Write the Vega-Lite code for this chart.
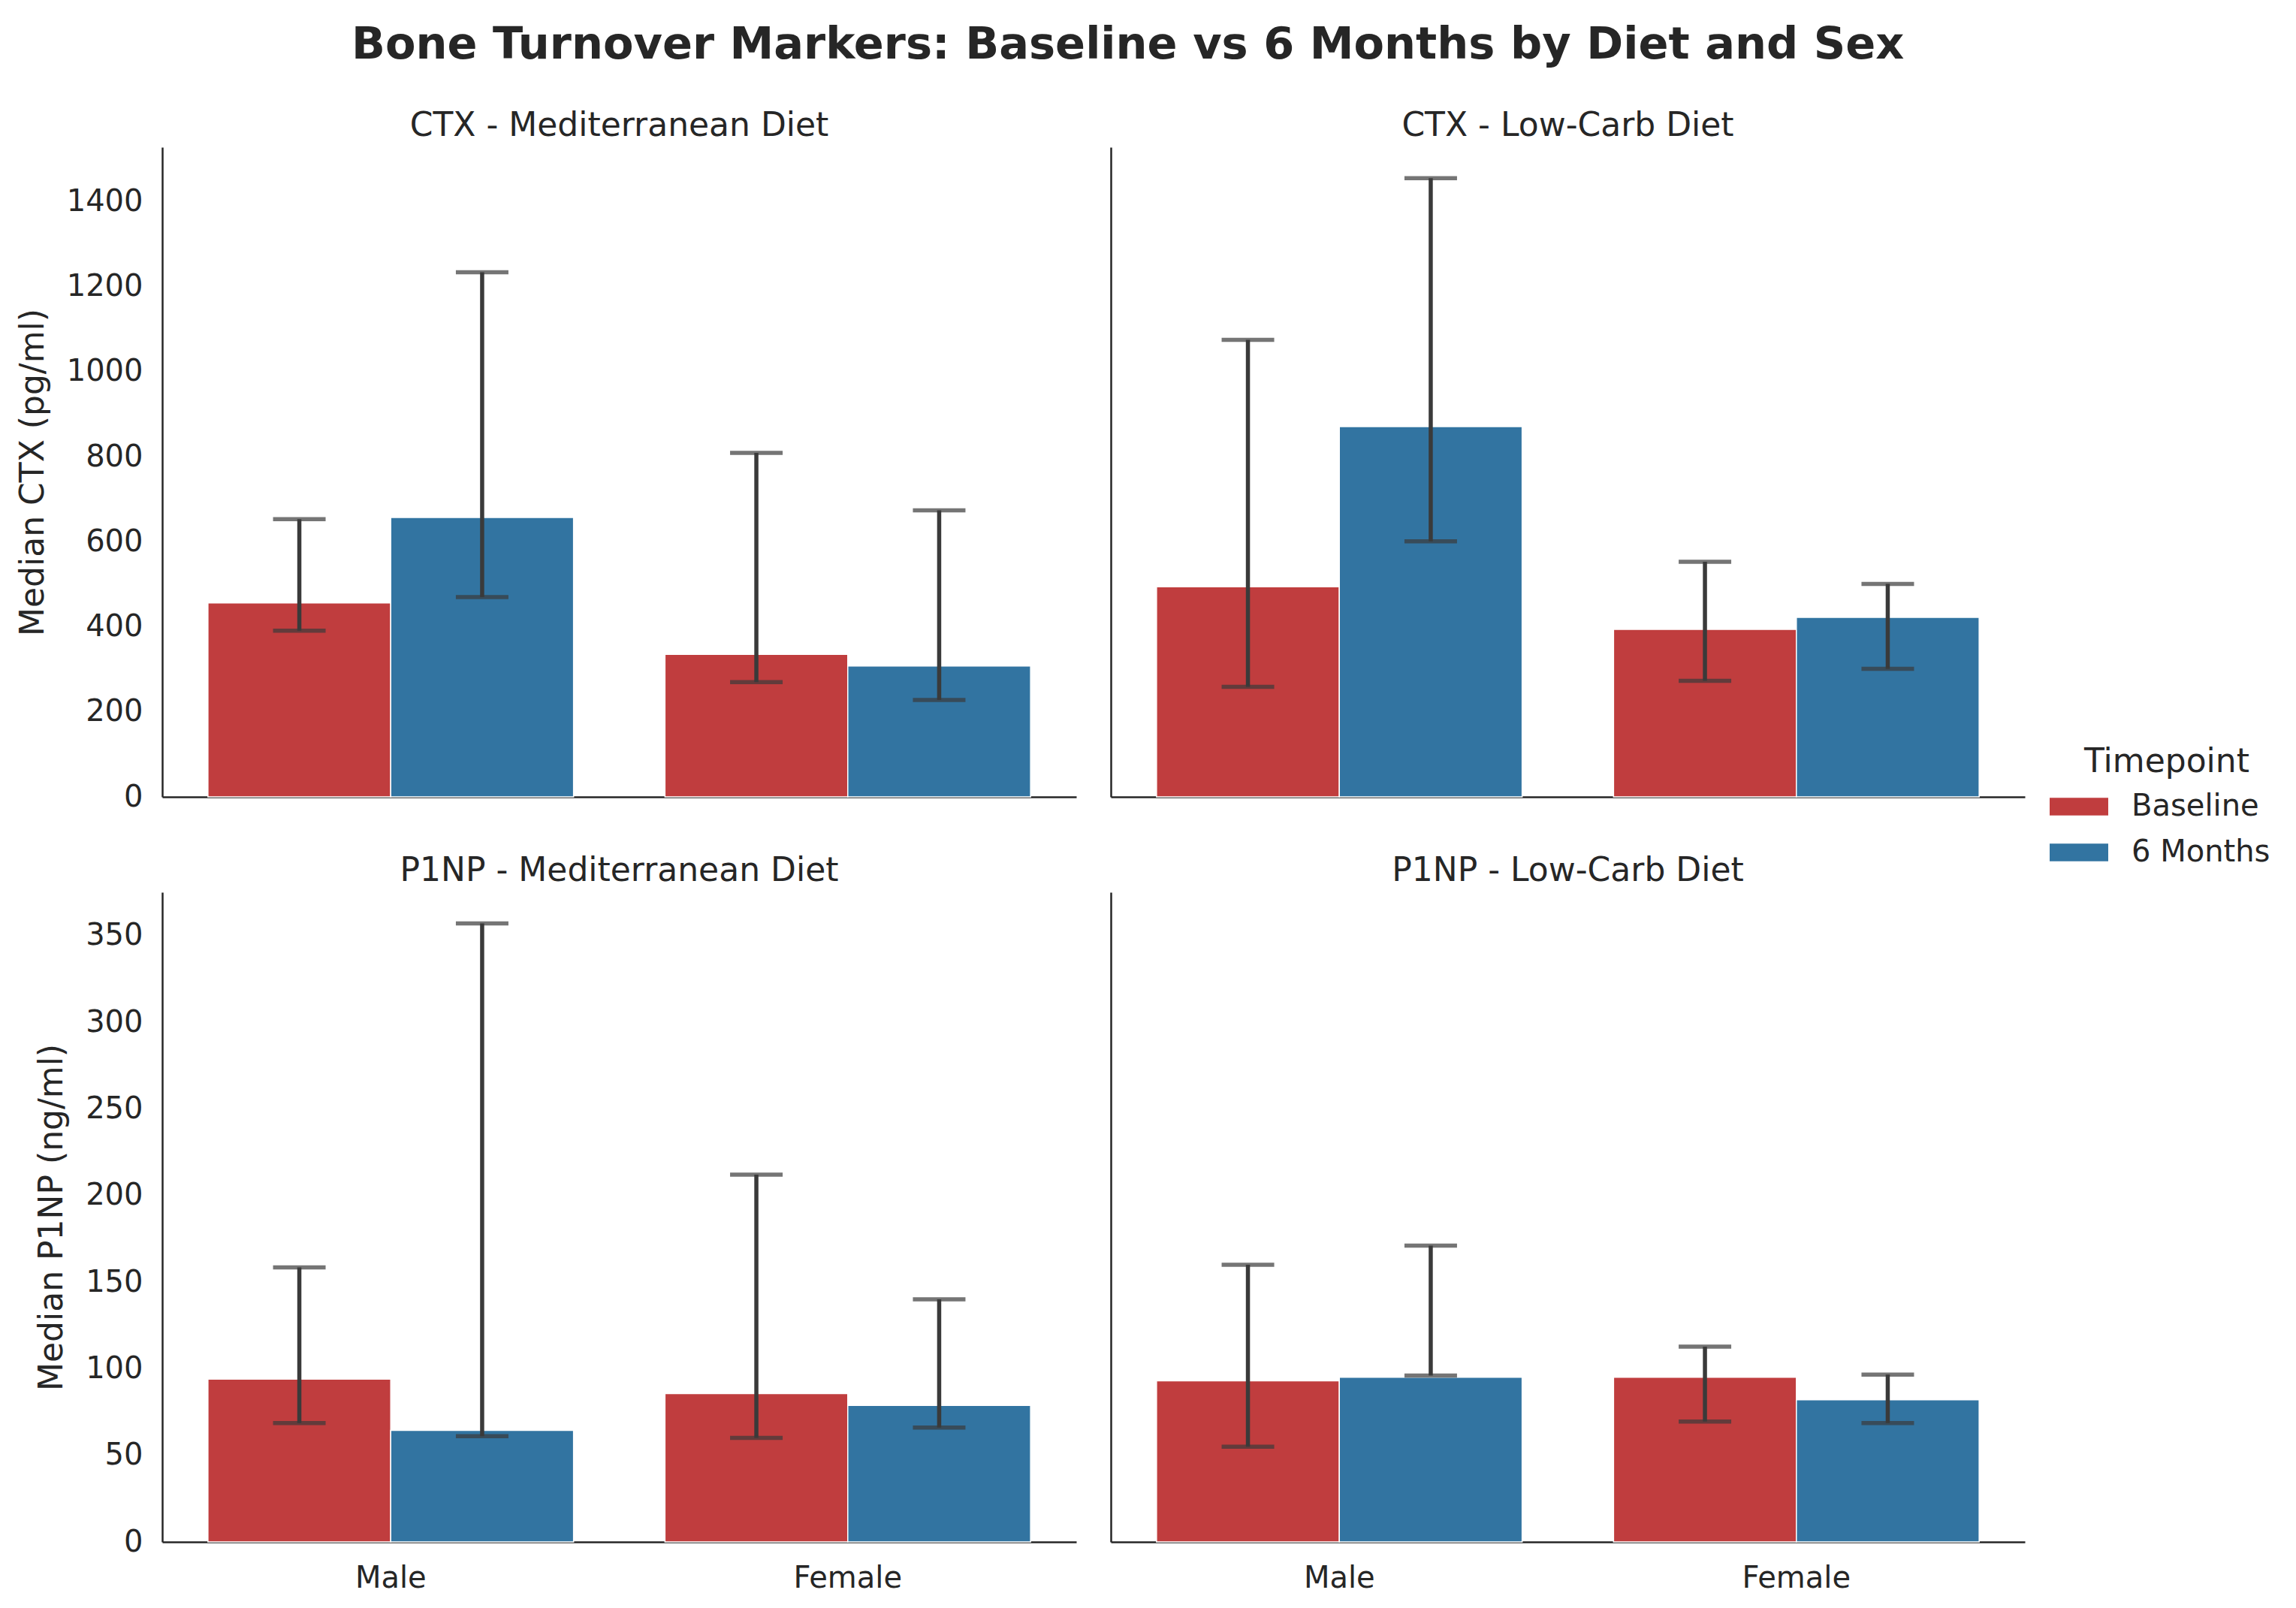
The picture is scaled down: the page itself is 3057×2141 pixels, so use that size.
{
  "$schema": "https://vega.github.io/schema/vega-lite/v6.json",
  "background": "white",
  "padding": {"left": 22, "top": 31, "right": 0, "bottom": 0},
  "title": {"text": "Bone Turnover Markers: Baseline vs 6 Months by Diet and Sex", "fontSize": 59, "fontWeight": "bold", "font": "DejaVu Sans", "color": "#262626", "anchor": "start", "frame": "group", "dx": 252, "offset": 56},
  "datasets": {
    "d": [
      {"marker": "CTX", "diet": "Mediterranean", "sex": "Male", "timepoint": "Baseline", "median": 456, "low": 391, "high": 653},
      {"marker": "CTX", "diet": "Mediterranean", "sex": "Male", "timepoint": "6 Months", "median": 657, "low": 470, "high": 1234},
      {"marker": "CTX", "diet": "Mediterranean", "sex": "Female", "timepoint": "Baseline", "median": 335, "low": 270, "high": 809},
      {"marker": "CTX", "diet": "Mediterranean", "sex": "Female", "timepoint": "6 Months", "median": 308, "low": 228, "high": 674},
      {"marker": "CTX", "diet": "Low-Carb", "sex": "Male", "timepoint": "Baseline", "median": 494, "low": 259, "high": 1075},
      {"marker": "CTX", "diet": "Low-Carb", "sex": "Male", "timepoint": "6 Months", "median": 871, "low": 601, "high": 1455},
      {"marker": "CTX", "diet": "Low-Carb", "sex": "Female", "timepoint": "Baseline", "median": 394, "low": 273, "high": 553},
      {"marker": "CTX", "diet": "Low-Carb", "sex": "Female", "timepoint": "6 Months", "median": 422, "low": 301, "high": 501},
      {"marker": "P1NP", "diet": "Mediterranean", "sex": "Male", "timepoint": "Baseline", "median": 94, "low": 68.6, "high": 158.5},
      {"marker": "P1NP", "diet": "Mediterranean", "sex": "Male", "timepoint": "6 Months", "median": 64.4, "low": 61, "high": 357},
      {"marker": "P1NP", "diet": "Mediterranean", "sex": "Female", "timepoint": "Baseline", "median": 85.6, "low": 60, "high": 212},
      {"marker": "P1NP", "diet": "Mediterranean", "sex": "Female", "timepoint": "6 Months", "median": 78.8, "low": 66, "high": 140},
      {"marker": "P1NP", "diet": "Low-Carb", "sex": "Male", "timepoint": "Baseline", "median": 93, "low": 55, "high": 160},
      {"marker": "P1NP", "diet": "Low-Carb", "sex": "Male", "timepoint": "6 Months", "median": 95, "low": 96, "high": 171},
      {"marker": "P1NP", "diet": "Low-Carb", "sex": "Female", "timepoint": "Baseline", "median": 95, "low": 69.5, "high": 112.7},
      {"marker": "P1NP", "diet": "Low-Carb", "sex": "Female", "timepoint": "6 Months", "median": 82, "low": 68.6, "high": 96.6}
    ]
  },
  "columns": 2,
  "bounds": "flush",
  "spacing": {"row": 127, "column": 46},
  "concat": [
    {
      "title": {"text": "CTX - Mediterranean Diet"},
      "width": 1217, "height": 865,
      "data": {"name": "d"},
      "transform": [{"filter": "datum.marker === 'CTX' && datum.diet === 'Mediterranean'"}],
      "encoding": {
        "x": {"field": "sex", "type": "nominal", "sort": ["Male", "Female"], "scale": {"paddingInner": 0.2, "paddingOuter": 0.1}, "axis": {"labels": false, "title": null}},
        "xOffset": {"field": "timepoint", "type": "nominal", "sort": ["Baseline", "6 Months"], "scale": {"paddingInner": 0, "paddingOuter": 0}}
      },
      "layer": [
        {"mark": {"type": "bar", "stroke": "white", "strokeWidth": 1.5}, "encoding": {"y": {"field": "median", "type": "quantitative", "scale": {"domain": [0, 1528]}, "axis": {"title": "Median CTX (pg/ml)", "format": "d", "values": [0, 200, 400, 600, 800, 1000, 1200, 1400]}}, "color": {"field": "timepoint", "type": "nominal", "scale": {"domain": ["Baseline", "6 Months"], "range": ["#c03d3e", "#3274a1"]}, "title": "Timepoint"}}},
        {"mark": {"type": "rule", "strokeWidth": 5.5, "color": "#3a3a3a"}, "encoding": {"y": {"field": "low", "type": "quantitative", "scale": {"domain": [0, 1528]}, "axis": {"title": "Median CTX (pg/ml)", "format": "d", "values": [0, 200, 400, 600, 800, 1000, 1200, 1400]}}, "y2": {"field": "high"}}},
        {"mark": {"type": "tick", "orient": "horizontal", "size": 70, "thickness": 5.5, "color": "#3a3a3a"}, "encoding": {"y": {"field": "low", "type": "quantitative", "scale": {"domain": [0, 1528]}, "axis": {"title": "Median CTX (pg/ml)", "format": "d", "values": [0, 200, 400, 600, 800, 1000, 1200, 1400]}}}},
        {"mark": {"type": "tick", "orient": "horizontal", "size": 70, "thickness": 5.5, "color": "#3a3a3a"}, "encoding": {"y": {"field": "high", "type": "quantitative", "scale": {"domain": [0, 1528]}, "axis": {"title": "Median CTX (pg/ml)", "format": "d", "values": [0, 200, 400, 600, 800, 1000, 1200, 1400]}}}}
      ]
    },
    {
      "title": {"text": "CTX - Low-Carb Diet"},
      "width": 1217, "height": 865,
      "data": {"name": "d"},
      "transform": [{"filter": "datum.marker === 'CTX' && datum.diet === 'Low-Carb'"}],
      "encoding": {
        "x": {"field": "sex", "type": "nominal", "sort": ["Male", "Female"], "scale": {"paddingInner": 0.2, "paddingOuter": 0.1}, "axis": {"labels": false, "title": null}},
        "xOffset": {"field": "timepoint", "type": "nominal", "sort": ["Baseline", "6 Months"], "scale": {"paddingInner": 0, "paddingOuter": 0}}
      },
      "layer": [
        {"mark": {"type": "bar", "stroke": "white", "strokeWidth": 1.5}, "encoding": {"y": {"field": "median", "type": "quantitative", "scale": {"domain": [0, 1528]}, "axis": {"title": null, "labels": false}}, "color": {"field": "timepoint", "type": "nominal", "scale": {"domain": ["Baseline", "6 Months"], "range": ["#c03d3e", "#3274a1"]}, "title": "Timepoint"}}},
        {"mark": {"type": "rule", "strokeWidth": 5.5, "color": "#3a3a3a"}, "encoding": {"y": {"field": "low", "type": "quantitative", "scale": {"domain": [0, 1528]}, "axis": {"title": null, "labels": false}}, "y2": {"field": "high"}}},
        {"mark": {"type": "tick", "orient": "horizontal", "size": 70, "thickness": 5.5, "color": "#3a3a3a"}, "encoding": {"y": {"field": "low", "type": "quantitative", "scale": {"domain": [0, 1528]}, "axis": {"title": null, "labels": false}}}},
        {"mark": {"type": "tick", "orient": "horizontal", "size": 70, "thickness": 5.5, "color": "#3a3a3a"}, "encoding": {"y": {"field": "high", "type": "quantitative", "scale": {"domain": [0, 1528]}, "axis": {"title": null, "labels": false}}}}
      ]
    },
    {
      "title": {"text": "P1NP - Mediterranean Diet"},
      "width": 1217, "height": 865,
      "data": {"name": "d"},
      "transform": [{"filter": "datum.marker === 'P1NP' && datum.diet === 'Mediterranean'"}],
      "encoding": {
        "x": {"field": "sex", "type": "nominal", "sort": ["Male", "Female"], "scale": {"paddingInner": 0.2, "paddingOuter": 0.1}, "axis": {"title": null, "labelAngle": 0}},
        "xOffset": {"field": "timepoint", "type": "nominal", "sort": ["Baseline", "6 Months"], "scale": {"paddingInner": 0, "paddingOuter": 0}}
      },
      "layer": [
        {"mark": {"type": "bar", "stroke": "white", "strokeWidth": 1.5}, "encoding": {"y": {"field": "median", "type": "quantitative", "scale": {"domain": [0, 375]}, "axis": {"title": "Median P1NP (ng/ml)", "format": "d", "values": [0, 50, 100, 150, 200, 250, 300, 350]}}, "color": {"field": "timepoint", "type": "nominal", "scale": {"domain": ["Baseline", "6 Months"], "range": ["#c03d3e", "#3274a1"]}, "title": "Timepoint"}}},
        {"mark": {"type": "rule", "strokeWidth": 5.5, "color": "#3a3a3a"}, "encoding": {"y": {"field": "low", "type": "quantitative", "scale": {"domain": [0, 375]}, "axis": {"title": "Median P1NP (ng/ml)", "format": "d", "values": [0, 50, 100, 150, 200, 250, 300, 350]}}, "y2": {"field": "high"}}},
        {"mark": {"type": "tick", "orient": "horizontal", "size": 70, "thickness": 5.5, "color": "#3a3a3a"}, "encoding": {"y": {"field": "low", "type": "quantitative", "scale": {"domain": [0, 375]}, "axis": {"title": "Median P1NP (ng/ml)", "format": "d", "values": [0, 50, 100, 150, 200, 250, 300, 350]}}}},
        {"mark": {"type": "tick", "orient": "horizontal", "size": 70, "thickness": 5.5, "color": "#3a3a3a"}, "encoding": {"y": {"field": "high", "type": "quantitative", "scale": {"domain": [0, 375]}, "axis": {"title": "Median P1NP (ng/ml)", "format": "d", "values": [0, 50, 100, 150, 200, 250, 300, 350]}}}}
      ]
    },
    {
      "title": {"text": "P1NP - Low-Carb Diet"},
      "width": 1217, "height": 865,
      "data": {"name": "d"},
      "transform": [{"filter": "datum.marker === 'P1NP' && datum.diet === 'Low-Carb'"}],
      "encoding": {
        "x": {"field": "sex", "type": "nominal", "sort": ["Male", "Female"], "scale": {"paddingInner": 0.2, "paddingOuter": 0.1}, "axis": {"title": null, "labelAngle": 0}},
        "xOffset": {"field": "timepoint", "type": "nominal", "sort": ["Baseline", "6 Months"], "scale": {"paddingInner": 0, "paddingOuter": 0}}
      },
      "layer": [
        {"mark": {"type": "bar", "stroke": "white", "strokeWidth": 1.5}, "encoding": {"y": {"field": "median", "type": "quantitative", "scale": {"domain": [0, 375]}, "axis": {"title": null, "labels": false}}, "color": {"field": "timepoint", "type": "nominal", "scale": {"domain": ["Baseline", "6 Months"], "range": ["#c03d3e", "#3274a1"]}, "title": "Timepoint"}}},
        {"mark": {"type": "rule", "strokeWidth": 5.5, "color": "#3a3a3a"}, "encoding": {"y": {"field": "low", "type": "quantitative", "scale": {"domain": [0, 375]}, "axis": {"title": null, "labels": false}}, "y2": {"field": "high"}}},
        {"mark": {"type": "tick", "orient": "horizontal", "size": 70, "thickness": 5.5, "color": "#3a3a3a"}, "encoding": {"y": {"field": "low", "type": "quantitative", "scale": {"domain": [0, 375]}, "axis": {"title": null, "labels": false}}}},
        {"mark": {"type": "tick", "orient": "horizontal", "size": 70, "thickness": 5.5, "color": "#3a3a3a"}, "encoding": {"y": {"field": "high", "type": "quantitative", "scale": {"domain": [0, 375]}, "axis": {"title": null, "labels": false}}}}
      ]
    }
  ],
  "config": {
    "font": "DejaVu Sans",
    "view": {"stroke": null},
    "title": {"fontSize": 44, "fontWeight": "normal", "color": "#262626", "font": "DejaVu Sans", "offset": 6, "anchor": "middle"},
    "axis": {"domainColor": "#262626", "domainWidth": 2.5, "ticks": false, "grid": false, "labelFontSize": 40, "titleFontSize": 44, "labelColor": "#262626", "titleColor": "#262626", "titleFontWeight": "normal", "labelFont": "DejaVu Sans", "titleFont": "DejaVu Sans", "labelPadding": 26, "titlePadding": 22},
    "axisX": {"labelPadding": 28},
    "legend": {"orient": "none", "legendX": 2532, "legendY": 797, "padding": 0, "titleFontSize": 44, "labelFontSize": 40, "titleFontWeight": "normal", "titleColor": "#262626", "labelColor": "#262626", "titleAnchor": "middle", "titleLimit": 1000, "labelLimit": 1000, "symbolType": "M-2,-0.6H2V0.6H-2Z", "symbolSize": 1521, "symbolStrokeWidth": 0, "labelOffset": 50, "rowPadding": 21, "titlePadding": 17}
  }
}
